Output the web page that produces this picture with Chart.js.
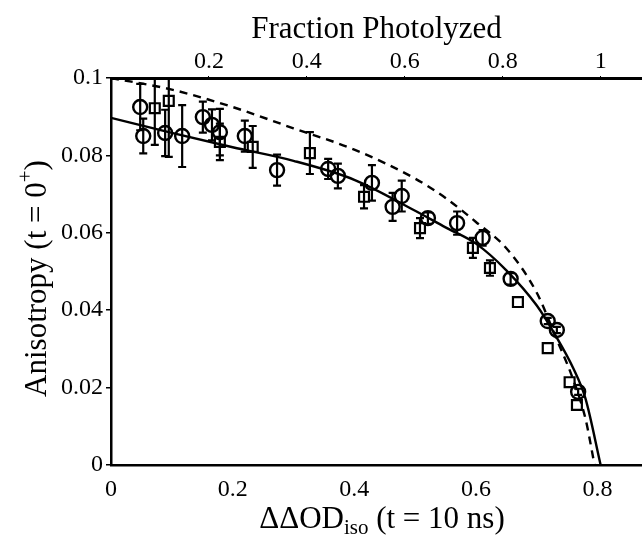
<!DOCTYPE html>
<html>
<head>
<meta charset="utf-8">
<title>Anisotropy vs fraction photolyzed</title>
<script src="https://cdn.jsdelivr.net/npm/chart.js@4.4.0/dist/chart.umd.min.js"></script>
<style>
  html, body { margin:0; padding:0; background:#fff; }
  #wrap { width:642px; height:536px; }
</style>
</head>
<body>
<div id="wrap"><canvas id="anisoChart" width="642" height="536"></canvas></div>
<script>
// circles (with error bars)
const circX   = [0.048, 0.053, 0.089, 0.117, 0.151, 0.166, 0.179, 0.220, 0.273, 0.357, 0.373, 0.429, 0.463, 0.478, 0.521, 0.569, 0.611, 0.657, 0.718, 0.733, 0.768];
const circY   = [0.0925, 0.0850, 0.0858, 0.0850, 0.0899, 0.0879, 0.0860, 0.0850, 0.0762, 0.0765, 0.0747, 0.0729, 0.0667, 0.0695, 0.0638, 0.0625, 0.0587, 0.0481, 0.0372, 0.0349, 0.0189];
const circErr = [0.0060, 0.0045, 0.0060, 0.0080, 0.0040, 0.0040, 0.0060, 0.0040, 0.0040, 0.0026, 0.0032, 0.0046, 0.0036, 0.0040, 0.0015, 0.0030, 0.0020, 0.0015, 0.0008, 0.0008, 0.0008];

// squares
const sqX   = [0.072, 0.095, 0.179, 0.233, 0.327, 0.416, 0.508, 0.595, 0.623, 0.669, 0.718, 0.754, 0.766];
const sqY   = [0.0922, 0.0941, 0.0835, 0.0822, 0.0806, 0.0693, 0.0612, 0.0561, 0.0509, 0.0421, 0.0302, 0.0214, 0.0155];
const sqErr = [0.0095, 0.0145, 0.0047, 0.0054, 0.0054, 0.0030, 0.0026, 0.0026, 0.0020, 0, 0, 0, 0];

// solid fit curve
const fitX = [0, 0.1, 0.2, 0.3, 0.4, 0.5, 0.55, 0.6, 0.65, 0.7, 0.73, 0.76, 0.78, 0.805];
const fitY = [0.0897, 0.0858, 0.0821, 0.0786, 0.0737, 0.0657, 0.0614, 0.0572, 0.0503, 0.0412, 0.0337, 0.0250, 0.0172, 0];

// dashed curve
const dashX = [0, 0.1, 0.2, 0.3, 0.4, 0.5, 0.55, 0.6, 0.65, 0.7, 0.73, 0.76, 0.78, 0.795];
const dashY = [0.1, 0.0970, 0.0925, 0.0870, 0.0815, 0.0740, 0.0690, 0.0628, 0.0560, 0.0445, 0.0335, 0.0220, 0.0120, 0];

// tick labels
const xTicks    = [0, 0.2, 0.4, 0.6, 0.8];
const yTicks    = [0, 0.02, 0.04, 0.06, 0.08, 0.1];
const fracTicks = [0.2, 0.4, 0.6, 0.8, 1];

const xMax = 0.873;
const odFull = 0.805;   // ΔΔOD at fraction photolyzed = 1

const serif = '"Liberation Serif", "Times New Roman", serif';
const pts = (xs, ys) => xs.map((v, i) => ({x: v, y: ys[i]}));
const fmt = v => String(+v.toFixed(3));
const setTicks = arr => scale => { scale.ticks = arr.map(v => ({value: v})); };

const errorBars = {
  id: 'errorBars',
  afterDatasetsDraw(chart) {
    const {ctx, chartArea: a, scales: {x, y}} = chart;
    ctx.save();
    ctx.beginPath();
    ctx.rect(a.left, a.top, a.right - a.left, a.bottom - a.top);
    ctx.clip();
    ctx.strokeStyle = '#000';
    ctx.lineWidth = 2.2;
    chart.data.datasets.forEach(ds => {
      if(!ds.err) return;
      ds.data.forEach((p, i) => {
        const e = ds.err[i];
        if(!e) return;
        const px = x.getPixelForValue(p.x);
        const y1 = y.getPixelForValue(p.y + e), y2 = y.getPixelForValue(p.y - e);
        ctx.beginPath();
        ctx.moveTo(px, y1); ctx.lineTo(px, y2);
        ctx.moveTo(px - 4, y1); ctx.lineTo(px + 4, y1);
        ctx.moveTo(px - 4, y2); ctx.lineTo(px + 4, y2);
        ctx.stroke();
      });
    });
    ctx.restore();
  }
};

// axis titles that need sub/superscripts
const axisTitles = {
  id: 'axisTitles',
  afterDraw(chart) {
    const {ctx, chartArea: a} = chart;
    const big = '31px ' + serif, small = '21px ' + serif;
    ctx.save();
    ctx.fillStyle = '#000';
    ctx.textBaseline = 'alphabetic';
    ctx.textAlign = 'left';

    // bottom: ΔΔOD_iso (t = 10 ns)
    ctx.font = big;
    const wa = ctx.measureText('ΔΔOD').width, wc = ctx.measureText(' (t = 10 ns)').width;
    ctx.font = small;
    const wb = ctx.measureText('iso').width;
    let x0 = 382 - (wa + wb + wc) / 2;
    const base = 528;
    ctx.font = big; ctx.fillText('ΔΔOD', x0, base);
    ctx.font = small; ctx.fillText('iso', x0 + wa, base + 6);
    ctx.font = big; ctx.fillText(' (t = 10 ns)', x0 + wa + wb, base);

    // left: Anisotropy (t = 0+)
    ctx.translate(46, (a.top + a.bottom) / 2 + 7);
    ctx.rotate(-Math.PI / 2);
    ctx.font = big;
    const w1 = ctx.measureText('Anisotropy (t = 0').width, w3 = ctx.measureText(')').width;
    ctx.font = small;
    const w2 = ctx.measureText('+').width;
    x0 = -(w1 + w2 + w3) / 2;
    ctx.font = big; ctx.fillText('Anisotropy (t = 0', x0, 0);
    ctx.font = small; ctx.fillText('+', x0 + w1, -14);
    ctx.font = big; ctx.fillText(')', x0 + w1 + w2, 0);
    ctx.restore();
  }
};

new Chart(document.getElementById('anisoChart'), {
  type: 'scatter',
  data: {
    datasets: [
      { label: 'fit', data: pts(fitX, fitY), showLine: true, borderColor: '#000', borderWidth: 2.4,
        pointRadius: 0, cubicInterpolationMode: 'monotone', fill: false },
      { label: 'dashed', data: pts(dashX, dashY), showLine: true, borderColor: '#000', borderWidth: 2.4,
        borderDash: [8, 6], pointRadius: 0, cubicInterpolationMode: 'monotone', fill: false },
      { label: 'circles', data: pts(circX, circY), err: circErr, pointStyle: 'circle', pointRadius: 7,
        borderColor: '#000', borderWidth: 2.4, backgroundColor: 'rgba(0,0,0,0)' },
      { label: 'squares', data: pts(sqX, sqY), err: sqErr, pointStyle: 'rect', pointRadius: 7,
        borderColor: '#000', borderWidth: 2.2, backgroundColor: 'rgba(0,0,0,0)' }
    ]
  },
  options: {
    responsive: false,
    animation: false,
    layout: { padding: 0, autoPadding: false },
    plugins: { legend: { display: false }, tooltip: { enabled: false } },
    scales: {
      x: {
        type: 'linear', position: 'bottom', min: 0, max: xMax,
        afterBuildTicks: setTicks(xTicks),
        afterFit: s => { s.height = 71; },
        grid: { drawOnChartArea: false, drawTicks: false },
        border: { color: '#000', width: 2.5 },
        ticks: { callback: fmt, color: '#000', padding: 10, maxRotation: 0, font: { family: serif, size: 24 } }
      },
      x2: {
        type: 'linear', axis: 'x', position: 'top', min: 0, max: xMax / odFull,
        afterBuildTicks: setTicks(fracTicks),
        afterFit: s => { s.height = 78; },
        grid: { drawOnChartArea: false, tickLength: 2, color: '#000', lineWidth: 1 },
        border: { color: '#000', width: 3 },
        title: { display: true, text: 'Fraction Photolyzed', color: '#000', padding: { top: 11, bottom: 0 },
                 font: { family: serif, size: 31 } },
        ticks: { callback: fmt, color: '#000', padding: 0, maxRotation: 0, font: { family: serif, size: 24 } }
      },
      y: {
        type: 'linear', min: 0, max: 0.1,
        afterBuildTicks: setTicks(yTicks),
        afterFit: s => { s.width = 111; },
        grid: { drawOnChartArea: false, tickLength: 5, color: '#000', lineWidth: 1.5 },
        border: { color: '#000', width: 2.5 },
        ticks: { callback: fmt, color: '#000', padding: 3, font: { family: serif, size: 24 } }
      }
    }
  },
  plugins: [errorBars, axisTitles]
});
</script>
</body>
</html>
